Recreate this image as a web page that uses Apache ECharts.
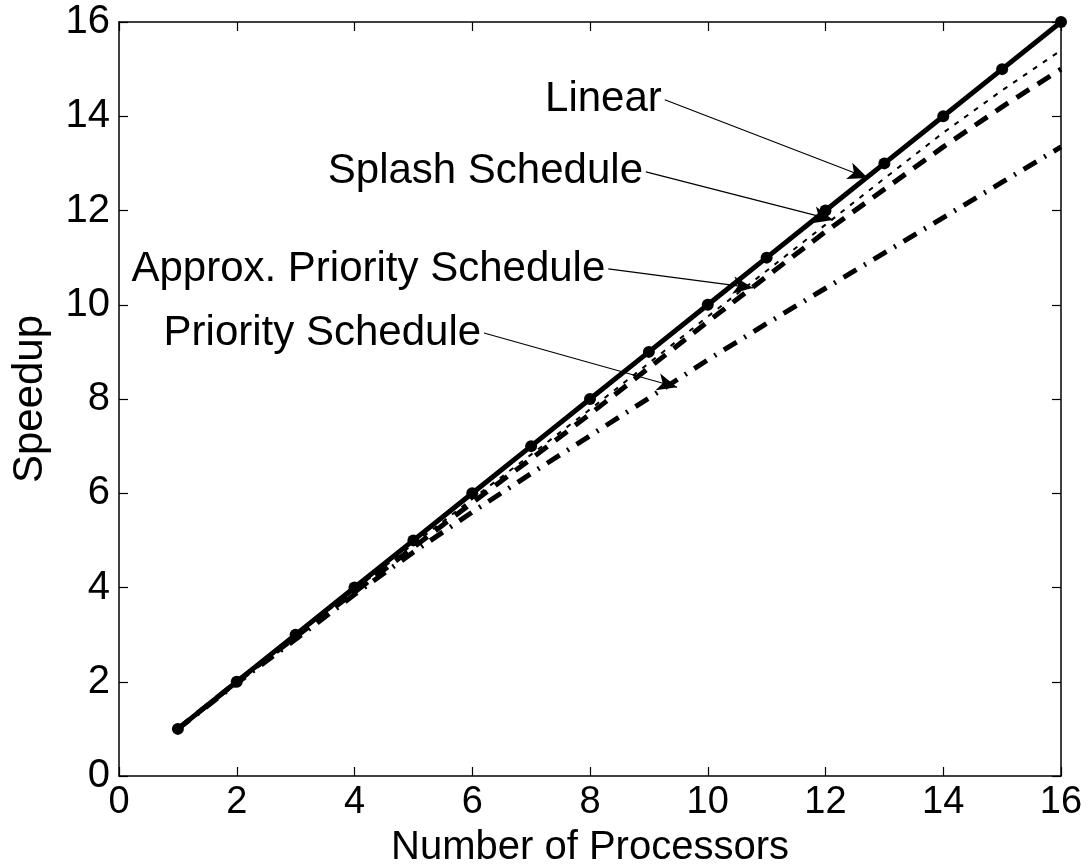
<!DOCTYPE html>
<html>
<head>
<meta charset="utf-8">
<script src="https://cdn.jsdelivr.net/npm/echarts@6/dist/echarts.min.js"></script>
<style>
html,body{margin:0;padding:0;background:#fff;}
#chart{width:1091px;height:867px;}
</style>
</head>
<body>
<div id="chart"></div>
<script>
// ---- data ----
var processors = [1,2,3,4,5,6,7,8,9,10,11,12,13,14,15,16];
var linearSpeedup = [1,2,3,4,5,6,7,8,9,10,11,12,13,14,15,16];
var splashSpeedup = [1,2,2.97,3.95,4.92,5.88,6.82,7.78,8.76,9.75,10.72,11.7,12.68,13.65,14.55,15.4];
var approxSpeedup = [1,2,2.95,3.9,4.85,5.8,6.73,7.68,8.66,9.64,10.6,11.55,12.45,13.35,14.2,15.0];
var prioritySpeedup = [1,1.97,2.9,3.85,4.75,5.6,6.42,7.22,8.02,8.83,9.6,10.35,11.1,11.85,12.6,13.35];
var xTicks = [0,2,4,6,8,10,12,14,16];
var yTicks = [0,2,4,6,8,10,12,14,16];
// annotation labels: text, label anchor (right end, data coords), arrow tip (data coords)
var annotTexts = ['Linear','Splash Schedule','Approx. Priority Schedule','Priority Schedule'];
var annotAnchors = [[9.22,14.35],[8.9,12.82],[8.26,10.76],[6.15,9.40]];
var annotTips = [[12.72,12.69],[12.13,11.8],[10.77,10.36],[9.48,8.25]];

function pairs(xs, ys){ return xs.map(function(x,i){return [x, ys[i]];}); }

var font = '"Liberation Sans", Arial, Helvetica, sans-serif';
var chart = echarts.init(document.getElementById('chart'), null, {renderer:'canvas'});

function axisBase(){
  return {
    type:'value', min:0, max:16, interval:2,
    axisLine:{show:true, onZero:false, lineStyle:{color:'#000', width:1.5}},
    axisTick:{show:true, inside:true, length:9, lineStyle:{color:'#000', width:1.2}},
    splitLine:{show:false}
  };
}

var arrowData = annotTips.map(function(t,i){
  return [{coord:[annotAnchors[i][0]+0.05, annotAnchors[i][1]]},{coord:t}];
});

chart.setOption({
  animation:false,
  backgroundColor:'#fff',
  grid:{left:119, right:30, top:22, bottom:91, containLabel:false, outerBoundsMode:'none'},
  xAxis:[
    Object.assign(axisBase(), {
      position:'bottom',
      axisLabel:{show:true, color:'#000', fontSize:38, fontFamily:font, margin:8,
        formatter:function(v){ return xTicks.indexOf(v)>=0 ? String(v) : ''; }},
      name:'Number of Processors', nameLocation:'middle', nameGap:52,
      nameTextStyle:{color:'#000', fontSize:40, fontFamily:font}
    }),
    Object.assign(axisBase(), {position:'top', axisLabel:{show:false}})
  ],
  yAxis:[
    Object.assign(axisBase(), {
      position:'left',
      axisLabel:{show:true, color:'#000', fontSize:40, fontFamily:font, margin:9,
        formatter:function(v){ return yTicks.indexOf(v)>=0 ? String(v) : ''; }},
      name:'Speedup', nameLocation:'middle', nameGap:68,
      nameTextStyle:{color:'#000', fontSize:42, fontFamily:font}
    }),
    Object.assign(axisBase(), {position:'right', axisLabel:{show:false}})
  ],
  series:[
    {name:'Priority Schedule', type:'line', data:pairs(processors, prioritySpeedup),
      showSymbol:false, symbol:'none', z:2,
      lineStyle:{color:'#000', width:5, type:[15,9,2,9]}},
    {name:'Approx. Priority Schedule', type:'line', data:pairs(processors, approxSpeedup),
      showSymbol:false, symbol:'none', z:3,
      lineStyle:{color:'#000', width:5, type:[15,10]}},
    {name:'Splash Schedule', type:'line', data:pairs(processors, splashSpeedup),
      showSymbol:false, symbol:'none', z:3,
      lineStyle:{color:'#000', width:2, type:[5,7]}},
    {name:'Linear', type:'line', data:pairs(processors, linearSpeedup),
      symbol:'circle', symbolSize:12, showSymbol:true, z:5,
      itemStyle:{color:'#000'},
      lineStyle:{color:'#000', width:5},
      markLine:{silent:true, animation:false, symbol:['none','arrow'], symbolSize:[13,20],
        label:{show:false}, emphasis:{disabled:true},
        lineStyle:{color:'#000', width:1.2, type:'solid'},
        data:arrowData}}
  ]
});

var g = annotTexts.map(function(t,i){
  var p = chart.convertToPixel({gridIndex:0}, annotAnchors[i]);
  return {type:'text', x:p[0], y:p[1], z:10,
    style:{text:t, fill:'#000', font:'42px '+font, textAlign:'right', textVerticalAlign:'middle'}};
});
chart.setOption({graphic:g});
</script>
</body>
</html>
